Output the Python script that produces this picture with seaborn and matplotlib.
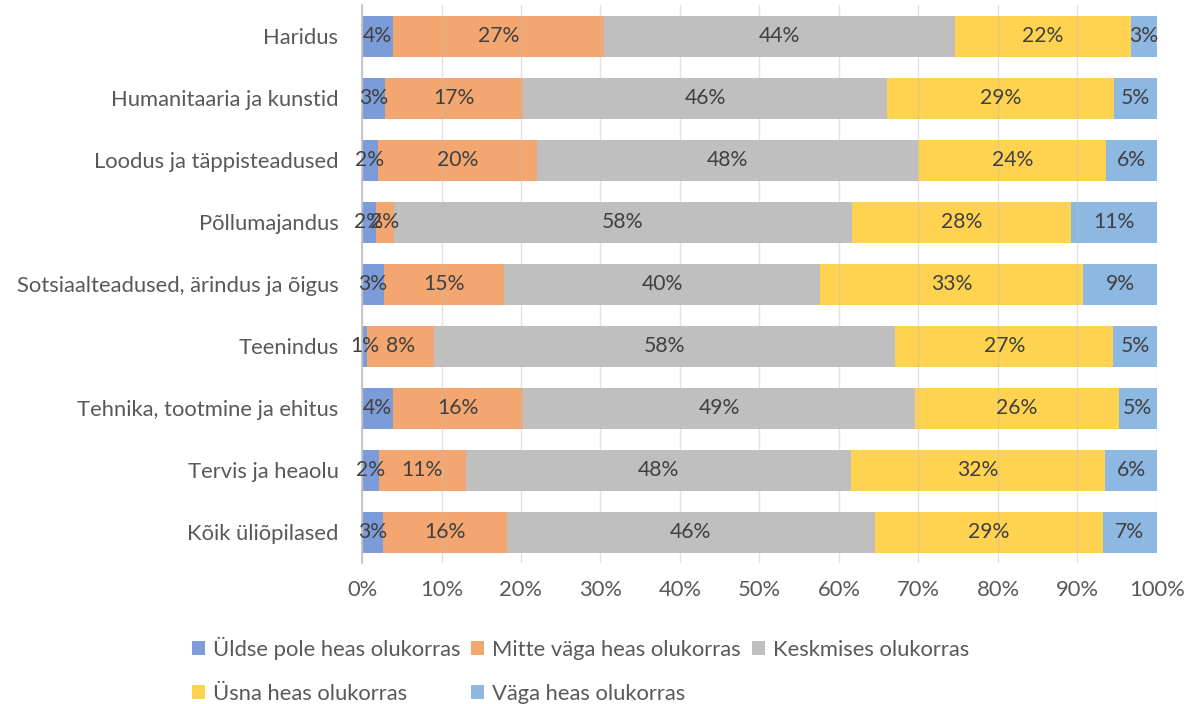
import matplotlib
matplotlib.use("Agg")
import matplotlib.pyplot as plt
import numpy as np
import pandas as pd
import seaborn as sns

categories = [
    "Haridus",
    "Humanitaaria ja kunstid",
    "Loodus ja täppisteadused",
    "Põllumajandus",
    "Sotsiaalteadused, ärindus ja õigus",
    "Teenindus",
    "Tehnika, tootmine ja ehitus",
    "Tervis ja heaolu",
    "Kõik üliõpilased",
]

series_names = [
    "Üldse pole heas olukorras",
    "Mitte väga heas olukorras",
    "Keskmises olukorras",
    "Üsna heas olukorras",
    "Väga heas olukorras",
]

uldse_pole = [3.9, 2.9, 2.0, 1.7, 2.8, 0.6, 3.9, 2.1, 2.6]
mitte_vaga = [26.5, 17.4, 20.0, 2.3, 15.1, 8.5, 16.3, 11.0, 15.6]
keskmises = [44.2, 45.7, 48.0, 57.6, 39.7, 58.0, 49.4, 48.4, 46.3]
usna_heas = [22.1, 28.6, 23.6, 27.6, 33.1, 27.4, 25.6, 32.0, 28.7]
vaga_heas = [3.3, 5.4, 6.4, 10.8, 9.3, 5.5, 4.8, 6.5, 6.8]

label_texts = [
    ["4%", "3%", "2%", "2%", "3%", "1%", "4%", "2%", "3%"],
    ["27%", "17%", "20%", "2%", "15%", "8%", "16%", "11%", "16%"],
    ["44%", "46%", "48%", "58%", "40%", "58%", "49%", "48%", "46%"],
    ["22%", "29%", "24%", "28%", "33%", "27%", "26%", "32%", "29%"],
    ["3%", "5%", "6%", "11%", "9%", "5%", "5%", "6%", "7%"],
]

colors = ["#7B9CD8", "#F3A66F", "#BFBFBF", "#FFD34F", "#8DB8E2"]

sns.set_theme(style="white")
plt.rcParams["font.family"] = ["Lato", "DejaVu Sans"]

df = pd.DataFrame({
    "category": categories,
    series_names[0]: uldse_pole,
    series_names[1]: mitte_vaga,
    series_names[2]: keskmises,
    series_names[3]: usna_heas,
    series_names[4]: vaga_heas,
})

fig = plt.figure(figsize=(11.92, 7.04), dpi=100)
ax = fig.add_axes([0.3037, 0.1996, 0.6669, 0.7926])

left = np.zeros(len(categories))
for name, col, labs in zip(series_names, colors, label_texts):
    sns.barplot(data=df, x=name, y="category", color=col, width=0.66,
                left=left, label=name, ax=ax, saturation=1, linewidth=0)
    ax.bar_label(ax.containers[-1], labels=labs, label_type="center",
                 fontsize=15.2, color="#404040")
    left = left + df[name].to_numpy()

if ax.get_legend() is not None:
    ax.get_legend().remove()

ax.set_xlim(0, 100)
ax.set_ylim(len(categories) - 0.5, -0.5)
ax.set_xticks(np.arange(0, 101, 10))
ax.set_xticklabels([f"{v}%" for v in range(0, 101, 10)])
ax.set_xlabel("")
ax.set_ylabel("")
ax.tick_params(axis="both", length=0, labelsize=15.8, colors="#595959")
ax.tick_params(axis="y", pad=17)
ax.tick_params(axis="x", pad=12)
ax.xaxis.grid(True, color="#BFBFBF", alpha=0.45, linewidth=1)
ax.set_axisbelow(False)
for s in ["top", "right", "bottom"]:
    ax.spines[s].set_visible(False)
ax.spines["left"].set_color("#BFBFBF")
ax.spines["left"].set_linewidth(1.2)

handles, labels = ax.get_legend_handles_labels()
order = [0, 3, 1, 4, 2]
fig.legend([handles[i] for i in order], [labels[i] for i in order],
           loc="lower left", bbox_to_anchor=(192 / 1192, 0.0),
           ncol=3, frameon=False, fontsize=15.8, labelcolor="#595959",
           handlelength=0.6, handleheight=0.6, handletextpad=0.35,
           columnspacing=0.5, labelspacing=1.1, borderpad=0,
           borderaxespad=0)

fig.savefig("out.png", dpi=100)
